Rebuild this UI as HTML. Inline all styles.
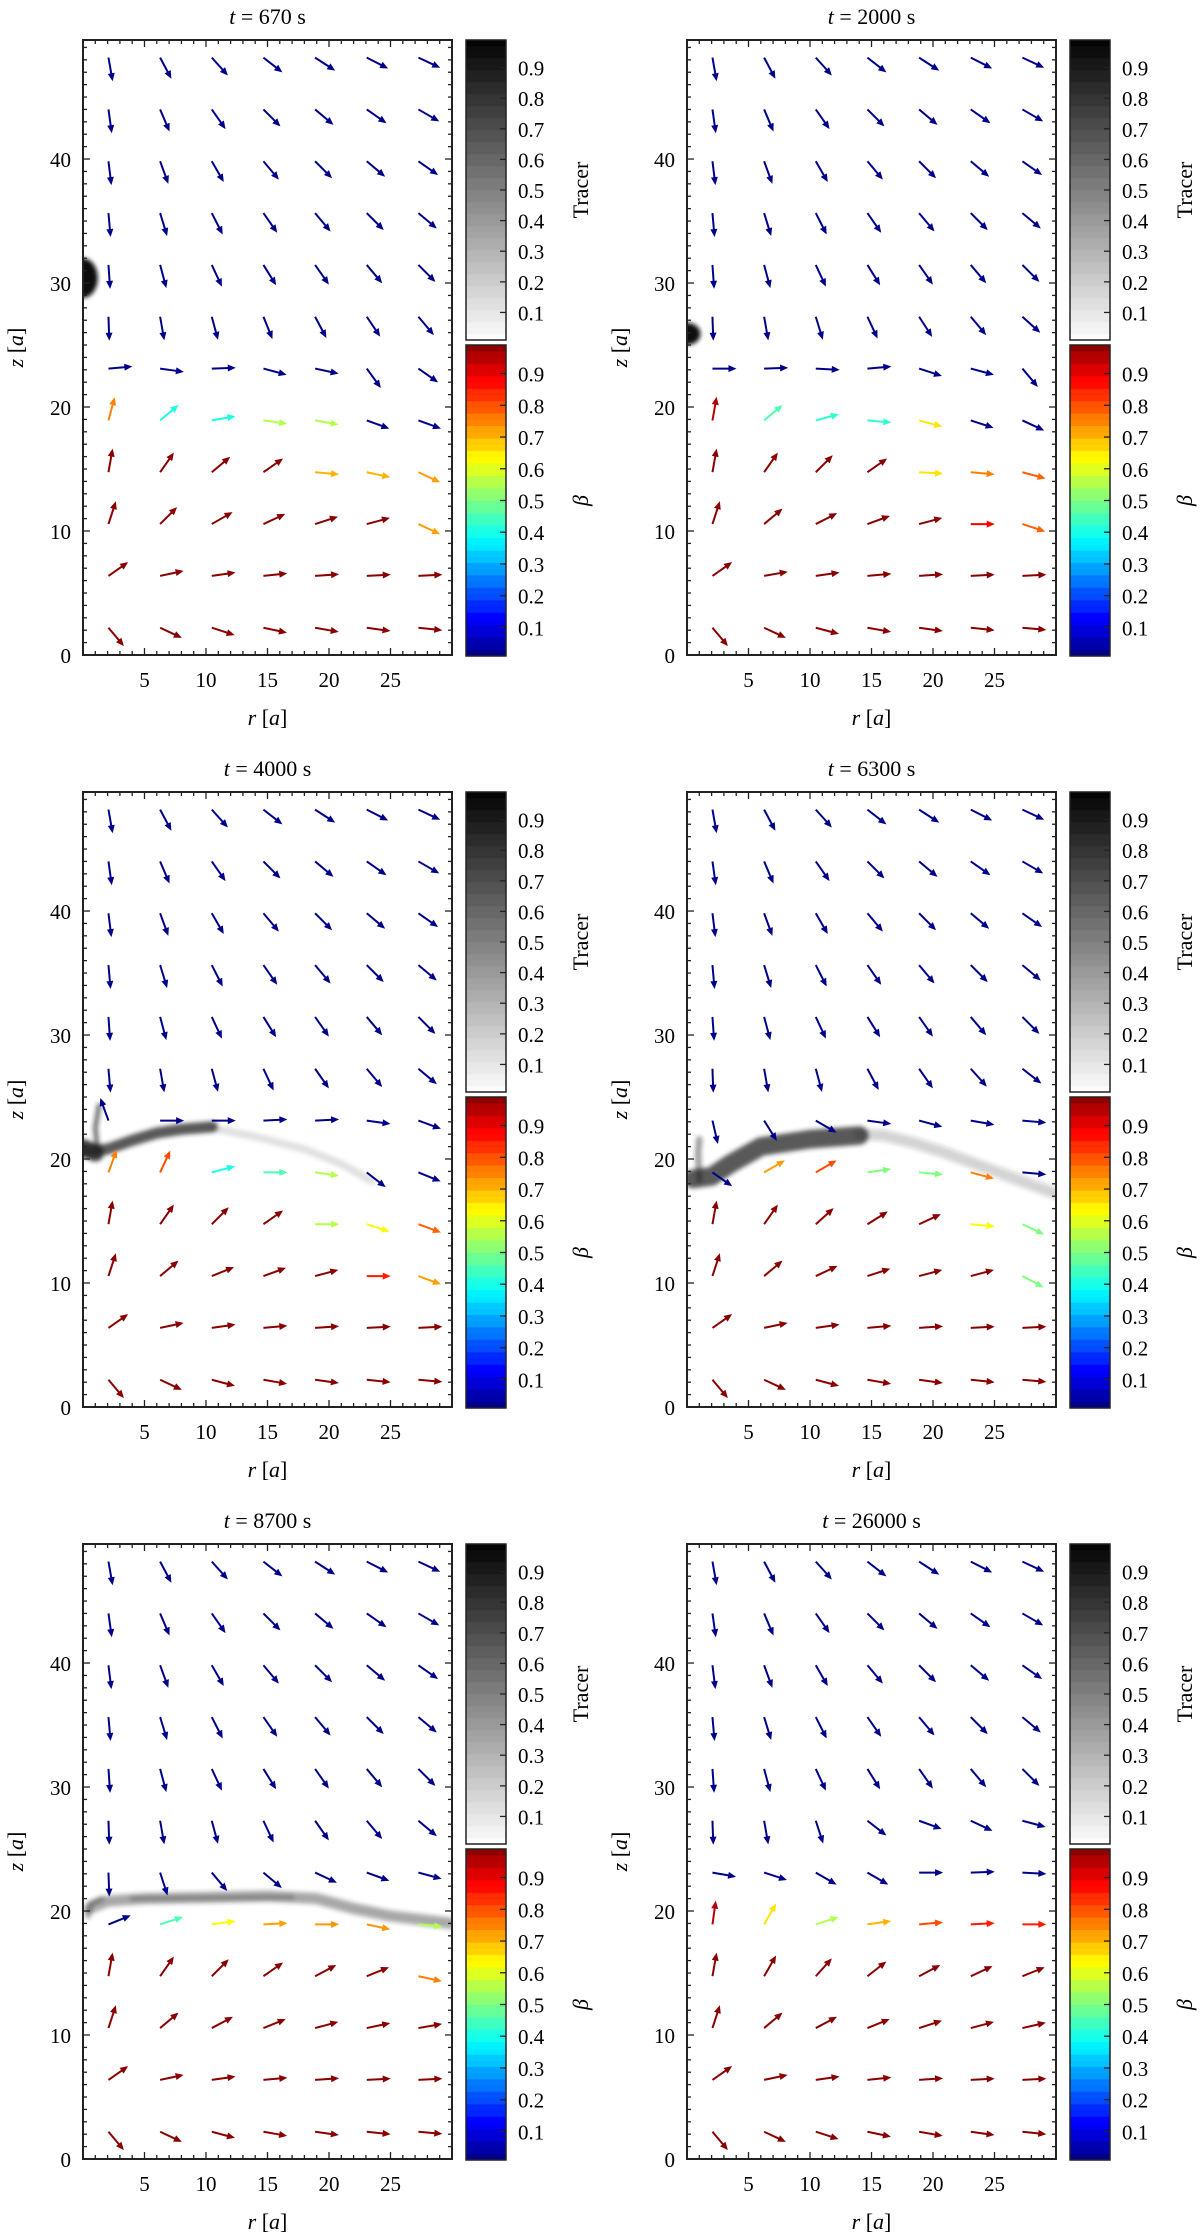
<!DOCTYPE html>
<html><head><meta charset="utf-8"><title>Tracer and beta velocity fields</title>
<style>
html,body{margin:0;padding:0;background:#fff;}
svg{display:block;font-family:"Liberation Serif","DejaVu Serif",serif;}
</style></head>
<body>
<svg id="fig" width="1200" height="2234" viewBox="0 0 1200 2234" xmlns="http://www.w3.org/2000/svg">
<defs>
<filter id="blur2" x="-20%" y="-50%" width="140%" height="200%"><feGaussianBlur stdDeviation="2"/></filter>
</defs>
</svg>
<script>
// ---------------- data ----------------
const titles = ["670", "2000", "4000", "6300", "8700", "26000"];
const xTicks = [5, 10, 15, 20, 25];
const yTicks = [0, 10, 20, 30, 40];
const cbTicks = [0.1, 0.2, 0.3, 0.4, 0.5, 0.6, 0.7, 0.8, 0.9];
// shared upper rows (z ~48 .. 31) arrow angles in degrees
const upperAngles = [
  [-80,-62,-48,-38,-33,-27,-25],
  [-82,-67,-55,-45,-40,-35,-30],
  [-83,-70,-60,-50,-45,-40,-35],
  [-85,-73,-63,-55,-50,-45,-40],
  [-86,-75,-65,-58,-55,-50,-45]
];
const upperBeta = 0.01;
// lower rows (z ~27 .. 2) per panel: angles
const anglesP1 = [[-88,-80,-75,-68,-62,-56,-50],[5,-8,2,-15,-12,-54,-35],[75,40,10,-8,-10,-20,-20],[80,55,40,35,-5,-12,-25],[72,45,30,25,18,15,-25],[35,12,8,6,4,3,3],[-50,-25,-18,-12,-10,-8,-6]];
const anglesP2 = [[-88,-80,-73,-65,-57,-50,-42],[0,2,-3,5,-18,-15,-50],[80,40,15,-5,-15,-18,-25],[80,55,45,35,-3,-5,-15],[72,40,27,20,15,0,-18],[35,10,8,5,4,3,3],[-50,-25,-15,-10,-8,-6,-5]];
const anglesP3 = [[-85,-80,-75,-65,-55,-50,-40],[110,0,0,3,3,-8,-20],[70,65,15,0,-8,-38,-22],[80,55,45,35,0,-18,-20],[72,40,22,20,15,0,-20],[35,12,8,5,4,3,3],[-50,-25,-15,-10,-8,-6,-5]];
const anglesP4 = [[-88,-80,-75,-62,-55,-48,-38],[-77,-58,-30,-8,-15,-10,-5],[-35,30,30,8,-5,-15,-5],[80,55,42,32,25,-5,-25],[72,40,25,18,15,15,-28],[35,12,8,5,4,3,3],[-50,-25,-15,-10,-8,-6,-5]];
const anglesP5 = [[-88,-80,-75,-65,-55,-50,-40],[-88,-72,-50,-40,-25,-20,-15],[22,18,8,3,0,-12,-5],[80,55,45,35,28,22,-12],[72,40,28,22,15,12,10],[35,12,8,5,4,3,3],[-50,-25,-15,-10,-8,-6,-5]];
const anglesP6 = [[-88,-80,-72,-38,-20,-25,-15],[-10,-18,-30,-30,0,2,-3],[82,60,18,8,5,3,0],[80,60,48,38,28,25,22],[72,40,28,22,18,15,13],[35,12,8,6,4,3,3],[-50,-25,-18,-12,-10,-8,-6]];
// lower rows per panel: beta
const B = 0.01, R = 0.99;
const betaP1 = [[B,B,B,B,B,B,B],[B,B,B,B,B,B,B],[.75,.4,.4,.55,.55,B,B],[R,R,R,R,.7,.7,.72],[R,R,R,R,R,R,.72],[R,R,R,R,R,R,R],[R,R,R,R,R,R,R]];
const betaP2 = [[B,B,B,B,B,B,B],[B,B,B,B,B,B,B],[.95,.45,.42,.42,.65,B,B],[R,R,R,R,.65,.75,.78],[R,R,R,R,R,.88,.78],[R,R,R,R,R,R,R],[R,R,R,R,R,R,R]];
const betaP3 = [[B,B,B,B,B,B,B],[B,B,B,B,B,B,B],[.75,.8,.4,.45,.55,B,B],[R,R,R,R,.55,.62,.78],[R,R,R,R,R,.85,.72],[R,R,R,R,R,R,R],[R,R,R,R,R,R,R]];
const betaP4 = [[B,B,B,B,B,B,B],[B,B,B,B,B,B,B],[B,.72,.8,.5,.5,.75,B],[R,R,R,R,R,.62,.5],[R,R,R,R,R,R,.5],[R,R,R,R,R,R,R],[R,R,R,R,R,R,R]];
const betaP5 = [[B,B,B,B,B,B,B],[B,B,B,B,B,B,B],[B,.45,.62,.72,.73,.73,.55],[R,R,R,R,R,R,.75],[R,R,R,R,R,R,R],[R,R,R,R,R,R,R],[R,R,R,R,R,R,R]];
const betaP6 = [[B,B,B,B,B,B,B],[B,B,B,B,B,B,B],[.95,.65,.55,.7,.8,.85,.85],[R,R,R,R,R,R,R],[R,R,R,R,R,R,R],[R,R,R,R,R,R,R],[R,R,R,R,R,R,R]];
const lowerAngles = [anglesP1, anglesP2, anglesP3, anglesP4, anglesP5, anglesP6];
const lowerBeta = [betaP1, betaP2, betaP3, betaP4, betaP5, betaP6];
// tracer features
const tracerBlobs = [[[0, 30.4, 1.2, 1.6]], [[0, 25.9, 1.1, 0.9]], [], [], [], []];
const tracerP3 = [
  {pts: [[10.5,22.5],[14,21.8],[18,20.8],[21,19.6],[23.5,18.2]], w: 0.6, op: 0.12},
  {pts: [[0,20.6],[2,20.8],[4,21.5],[6,22.1],[8,22.4],[10.5,22.6]], w: 0.9, op: 0.75},
  {pts: [[1.2,20.5],[1.0,22.5],[1.3,24.3]], w: 0.4, op: 0.6},
  {pts: [[0,20.9],[1,20.5]], w: 1.4, op: 0.85}
];
const tracerP4 = [
  {pts: [[14,22],[16,21.9],[18.5,21.3],[21,20.5],[24,19.4],[27,18.3],[30,17.2]], w: 0.9, op: 0.2},
  {pts: [[0.5,18.4],[2,18.6],[3.5,19.6],[6,21.0],[10,21.6],[14,21.9]], w: 1.5, op: 0.75},
  {pts: [[1,18.3],[0.9,20.5],[1,21.6]], w: 0.5, op: 0.45}
];
const tracerP5 = [
  {pts: [[0.5,20.2],[2,20.8],[5,21.0],[10,21.1],[15,21.2],[19,21.0],[22,20.2],[25,19.6],[30,19.0]], w: 0.9, op: 0.4},
  {pts: [[4,21],[17,21.1]], w: 0.4, op: 0.25},
  {pts: [[0.4,19.6],[0.6,20.6],[1.5,21]], w: 0.45, op: 0.4}
];
const tracerLines = [[], [], tracerP3, tracerP4, tracerP5, []];

// ---------------- layout ----------------
const NS = "http://www.w3.org/2000/svg";
const svg = document.getElementById("fig");
const PL = 83, PT = 40, PW = 369, PH = 615;
const XMAX = 30, YMAX = 49.6;
const COLDX = 604, ROWDY = 752;
const CBX = 466, CBW = 40;

function el(tag, attrs, parent) {
  const e = document.createElementNS(NS, tag);
  for (const k in attrs) e.setAttribute(k, attrs[k]);
  (parent || svg).appendChild(e);
  return e;
}
function jet(v) {
  const c = x => Math.round(255 * Math.max(0, Math.min(1, x)));
  return `rgb(${c(1.5 - Math.abs(4*v - 3))},${c(1.5 - Math.abs(4*v - 2))},${c(1.5 - Math.abs(4*v - 1))})`;
}
function gray(v) { const g = Math.round(255 * (1 - v)); return `rgb(${g},${g},${g})`; }

for (let p = 0; p < 6; p++) {
  const ox = (p % 2) * COLDX, oy = Math.floor(p / 2) * ROWDY;
  const L = PL + ox, T = PT + oy;
  const sx = r => L + r / XMAX * PW;
  const sy = z => T + PH - z / YMAX * PH;
  const g = el("g", {});
  
  

  const tt = el("text", {x: L + PW/2, y: T - 16, "font-size": 22, "text-anchor": "middle"}, g);
  
  
  tt.innerHTML = '<tspan font-style="italic">t</tspan> = ' + titles[p] + ' s';

  const cp = el("clipPath", {id: "clip" + p}, g);
  el("rect", {x: L, y: T, width: PW, height: PH}, cp);
  const plot = el("g", {"clip-path": "url(#clip" + p + ")"}, g);
  
  

  const tg = el("g", {filter: "url(#blur2)"}, plot);
  
  
  tracerBlobs[p].forEach(b => {
    const e = el("ellipse", {cx: sx(b[0]), cy: sy(b[1]), rx: b[2] * PW / XMAX, ry: b[3] * PH / YMAX, fill: "#111"}, tg);
    
    
  });
  tracerLines[p].forEach(t => {
    const d = t.pts.map((q, i) => (i ? "L" : "M") + sx(q[0]).toFixed(1) + " " + sy(q[1]).toFixed(1)).join(" ");
    const e = el("path", {d: d, fill: "none", stroke: "#222", "stroke-opacity": t.op, "stroke-width": t.w * PH / YMAX, "stroke-linecap": "round", "stroke-linejoin": "round"}, tg);
    
    
  });

  const ag = el("g", {}, plot);
  
  
  for (let j = 0; j < 12; j++) {
    for (let i = 0; i < 7; i++) {
      let ang, beta;
      if (j < 5) { ang = upperAngles[j][i]; beta = upperBeta; }
      else { ang = lowerAngles[p][j-5][i]; beta = lowerBeta[p][j-5][i]; }
      const r = 2.07 + 4.2 * i, z = 2.2 + 4.18 * (11 - j);
      const x0 = sx(r), y0 = sy(z);
      const a = ang * Math.PI / 180, len = 24;
      const ux = Math.cos(a), uy = -Math.sin(a);
      const x1 = x0 + ux * len, y1 = y0 + uy * len;
      const hb = 8, hw = 3.5;
      const bx = x1 - ux * hb, by = y1 - uy * hb;
      const col = jet(beta);
      const arr = el("g", {}, ag);
      
      
      el("line", {x1: x0, y1: y0, x2: bx + ux*1, y2: by + uy*1, stroke: col, "stroke-width": 2}, arr);
      el("polygon", {points: `${x1},${y1} ${bx - uy*hw},${by + ux*hw} ${bx + uy*hw},${by - ux*hw}`, fill: col}, arr);
    }
  }

  const fr = el("rect", {x: L, y: T, width: PW, height: PH, fill: "none", stroke: "#222", "stroke-width": 2}, g);
  
  
  const tk = el("g", {stroke: "#222", "stroke-width": 1.3}, g);
  
  
  for (let v = 1; v < XMAX; v++) {
    const x = sx(v), m = v % 5 === 0 ? 7 : 4;
    el("line", {x1: x, y1: T + PH, x2: x, y2: T + PH - m}, tk);
    el("line", {x1: x, y1: T, x2: x, y2: T + m}, tk);
  }
  for (let v = 1; v < YMAX; v++) {
    const y = sy(v), m = v % 10 === 0 ? 7 : 4;
    el("line", {x1: L, y1: y, x2: L + m, y2: y}, tk);
    el("line", {x1: L + PW, y1: y, x2: L + PW - m, y2: y}, tk);
  }
  xTicks.forEach(v => {
    const t = el("text", {x: sx(v), y: T + PH + 32, "font-size": 21, "text-anchor": "middle"}, g);
    
    
    t.textContent = v;
  });
  yTicks.forEach(v => {
    const t = el("text", {x: L - 12, y: sy(v) + 8, "font-size": 21, "text-anchor": "end"}, g);
    
    
    t.textContent = v;
  });
  const xl = el("text", {x: L + PW/2, y: T + PH + 70, "font-size": 22, "text-anchor": "middle"}, g);
  
  
  xl.innerHTML = '<tspan font-style="italic">r</tspan> [<tspan font-style="italic">a</tspan>]';
  const yl = el("text", {x: 0, y: 0, "font-size": 22, "text-anchor": "middle", transform: `translate(${L - 60},${T + PH/2}) rotate(-90)`}, g);
  
  
  yl.innerHTML = '<tspan font-style="italic">z</tspan> [<tspan font-style="italic">a</tspan>]';

  const cbs = [{top: T, h: 300, fn: gray, label: "Tracer", name: "tracer-colorbar"}, {top: T + 305, h: 311, fn: jet, label: "β", name: "beta-colorbar"}];
  cbs.forEach(cb => {
    const cg = el("g", {}, g);
    
    
    const X = CBX + ox, N = 50;
    for (let k = 0; k < N; k++) {
      const v0 = 0.01 + 0.98 * k / N;
      const vv = v0 + (k % 2 ? 0.012 : 0);
      const y = cb.top + cb.h - (k + 1) * cb.h / N;
      el("rect", {x: X, y: y - 0.3, width: CBW, height: cb.h / N + 0.6, fill: cb.fn(vv)}, cg);
    }
    el("rect", {x: X, y: cb.top, width: CBW, height: cb.h, fill: "none", stroke: "#222", "stroke-width": 1.5}, cg);
    cbTicks.forEach(v => {
      const y = cb.top + cb.h - (v - 0.01) / 0.98 * cb.h;
      el("line", {x1: X + CBW - 6, y1: y, x2: X + CBW, y2: y, stroke: "#222", "stroke-width": 1.3}, cg);
      const t = el("text", {x: X + CBW + 12, y: y + 8, "font-size": 21}, cg);
      
      
      t.textContent = v.toFixed(1);
    });
    const lt = el("text", {x: 0, y: 0, "font-size": 22, "text-anchor": "middle", transform: `translate(${X + CBW + 82},${cb.top + cb.h/2}) rotate(-90)`}, cg);
    
    
    if (cb.label === "β") lt.setAttribute("font-style", "italic");
    lt.textContent = cb.label;
  });
}
</script>
</body></html>
